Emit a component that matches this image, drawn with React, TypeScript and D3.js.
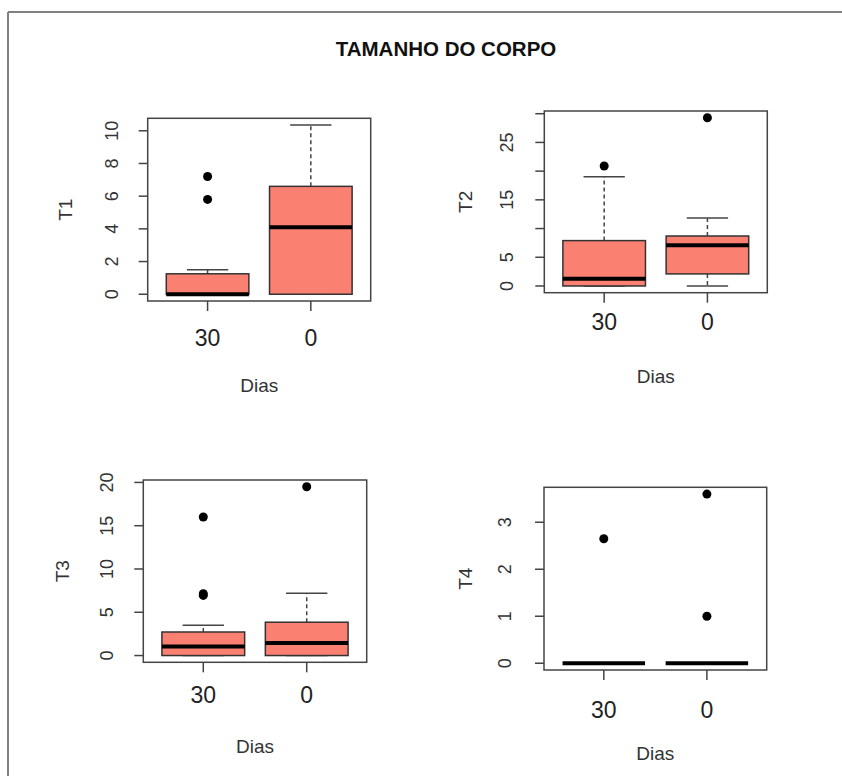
import React from "react";
import * as d3 from "d3";

const title = "TAMANHO DO CORPO";
const categories = ["30", "0"];
const xTitle = "Dias";

type Stat = { lo: number; q1: number; med: number; q3: number; hi: number; out: number[] };

const t1Stats: Stat[] = [
  { lo: 0, q1: 0, med: 0, q3: 1.25, hi: 1.5, out: [5.8, 7.2] },
  { lo: 0, q1: 0, med: 4.1, q3: 6.6, hi: 10.35, out: [] },
];
const t2Stats: Stat[] = [
  { lo: 0, q1: 0, med: 1.25, q3: 7.9, hi: 19.0, out: [20.9] },
  { lo: 0, q1: 2.1, med: 7.1, q3: 8.7, hi: 11.85, out: [29.3] },
];
const t3Stats: Stat[] = [
  { lo: 0, q1: 0, med: 1.05, q3: 2.72, hi: 3.5, out: [6.95, 7.15, 16.0] },
  { lo: 0, q1: 0, med: 1.44, q3: 3.85, hi: 7.2, out: [19.5] },
];
const t4Stats: Stat[] = [
  { lo: 0, q1: 0, med: 0, q3: 0, hi: 0, out: [2.65] },
  { lo: 0, q1: 0, med: 0, q3: 0, hi: 0, out: [1.0, 3.6] },
];

const t1Ticks = [0, 2, 4, 6, 8, 10];
const t1Labels = [0, 2, 4, 6, 8, 10];
const t2Ticks = [0, 5, 10, 15, 20, 25, 30];
const t2Labels = [0, 5, 15, 25];
const t3Ticks = [0, 5, 10, 15, 20];
const t3Labels = [0, 5, 10, 15, 20];
const t4Ticks = [0, 1, 2, 3];
const t4Labels = [0, 1, 2, 3];

const panels = [
  { name: "T1", stats: t1Stats, ticks: t1Ticks, labels: t1Labels,
    l: 147.7, r: 370.7, t: 118.3, b: 301, yLabX: 111.7, yTitleX: 65, xLabY: 338, xTitleY: 385 },
  { name: "T2", stats: t2Stats, ticks: t2Ticks, labels: t2Labels,
    l: 544.3, r: 767.3, t: 111, b: 292.7, yLabX: 506.7, yTitleX: 465, xLabY: 321.7, xTitleY: 376.7 },
  { name: "T3", stats: t3Stats, ticks: t3Ticks, labels: t3Labels,
    l: 143.3, r: 366.7, t: 480, b: 662.3, yLabX: 106.7, yTitleX: 62, xLabY: 695, xTitleY: 746.7 },
  { name: "T4", stats: t4Stats, ticks: t4Ticks, labels: t4Labels,
    l: 544, r: 766.7, t: 487.3, b: 670, yLabX: 505, yTitleX: 465, xLabY: 710, xTitleY: 753.3 },
];

const FONT = "'Liberation Sans', Arial, sans-serif";
const FILL = "#FA8072";

function Panel({ p }: { p: (typeof panels)[number] }) {
  const allVals = p.stats.flatMap((s) => [s.lo, s.hi, ...s.out]);
  const [mn, mx] = d3.extent(allVals) as [number, number];
  const pad = (mx - mn) * 0.04;
  const y = d3.scaleLinear().domain([mn - pad, mx + pad]).range([p.b, p.t]);
  const x = d3.scalePoint<string>().domain(categories).range([p.l, p.r]).padding(0.58);
  const step = x.step();
  const bw = step * 0.8;
  const cw = bw / 2;
  const tickLen = 9;
  const cx = (p.l + p.r) / 2;
  const cy = (p.t + p.b) / 2;
  return (
    <g>
      {p.stats.map((s, i) => {
        const xc = x(categories[i])!;
        return (
          <g key={i}>
            <line x1={xc} x2={xc} y1={y(s.q3)} y2={y(s.hi)} stroke="#444" strokeWidth={1.5} strokeDasharray="4,3" />
            <line x1={xc} x2={xc} y1={y(s.q1)} y2={y(s.lo)} stroke="#444" strokeWidth={1.5} strokeDasharray="4,3" />
            <line x1={xc - cw / 2} x2={xc + cw / 2} y1={y(s.hi)} y2={y(s.hi)} stroke="#444" strokeWidth={1.5} />
            <line x1={xc - cw / 2} x2={xc + cw / 2} y1={y(s.lo)} y2={y(s.lo)} stroke="#444" strokeWidth={1.5} />
            <rect x={xc - bw / 2} y={y(s.q3)} width={bw} height={Math.max(0, y(s.q1) - y(s.q3))}
              fill={FILL} stroke="#333" strokeWidth={1.5} />
            <line x1={xc - bw / 2} x2={xc + bw / 2} y1={y(s.med)} y2={y(s.med)} stroke="#000" strokeWidth={4} />
            {s.out.map((o, j) => (
              <circle key={j} cx={xc} cy={y(o)} r={4.5} fill="#000" />
            ))}
            <line x1={xc} x2={xc} y1={p.b} y2={p.b + 10} stroke="#444" strokeWidth={1.5} />
            <text x={xc} y={p.xLabY} textAnchor="middle" dominantBaseline="central"
              fontSize={23} fill="#222" fontFamily={FONT}>{categories[i]}</text>
          </g>
        );
      })}
      <rect x={p.l} y={p.t} width={p.r - p.l} height={p.b - p.t} fill="none" stroke="#444" strokeWidth={1.5} />
      {p.ticks.map((t) => (
        <line key={t} x1={p.l - tickLen} x2={p.l} y1={y(t)} y2={y(t)} stroke="#444" strokeWidth={1.5} />
      ))}
      {p.labels.map((t) => (
        <text key={t} transform={`translate(${p.yLabX},${y(t)}) rotate(-90)`} textAnchor="middle"
          dominantBaseline="central" fontSize={18} fill="#333" fontFamily={FONT}>{t}</text>
      ))}
      <text transform={`translate(${p.yTitleX},${cy}) rotate(-90)`} textAnchor="middle"
        dominantBaseline="central" fontSize={19} fill="#333" fontFamily={FONT}>{p.name}</text>
      <text x={cx} y={p.xTitleY} textAnchor="middle" dominantBaseline="central"
        fontSize={19} fill="#333" fontFamily={FONT}>{xTitle}</text>
    </g>
  );
}

export default function App() {
  return (
    <svg width={842} height={776} style={{ position: "absolute", left: 0, top: 0, background: "#fff" }}>
      <rect x={0} y={0} width={842} height={776} fill="#fff" />
      <line x1={8} x2={842} y1={12} y2={12} stroke="#808080" strokeWidth={2} />
      <line x1={8} x2={8} y1={12} y2={776} stroke="#808080" strokeWidth={2} />
      <text x={446} y={48} textAnchor="middle" dominantBaseline="central" fontSize={20.5}
        fontWeight="bold" fill="#111" fontFamily={FONT}>{title}</text>
      {panels.map((p) => (
        <Panel key={p.name} p={p} />
      ))}
    </svg>
  );
}
